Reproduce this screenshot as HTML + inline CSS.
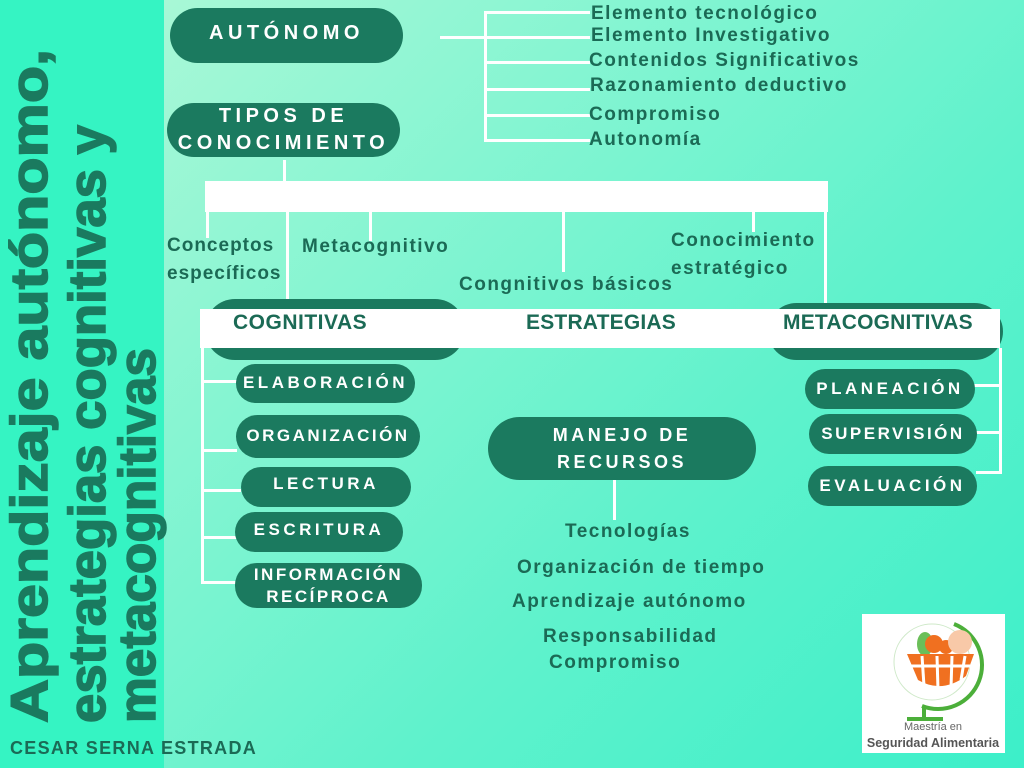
<!DOCTYPE html>
<html><head><meta charset="utf-8"><style>
*{margin:0;padding:0;box-sizing:border-box}
body{width:1024px;height:768px;position:relative;overflow:hidden;font-family:"Liberation Sans",sans-serif;
background:linear-gradient(135deg,#b4f9d8 0%,#86f5d2 35%,#5ff2cc 65%,#3cefc9 100%)}
.a{position:absolute}
.pill{position:absolute;background:#1b7a5f;border-radius:28px;color:#fff;font-weight:bold;text-align:center;display:flex;align-items:center;justify-content:center;letter-spacing:3.5px;line-height:1.35;white-space:nowrap}
.w{position:absolute;background:#fff}
.t{position:absolute;color:#1b6a55;font-weight:bold;font-size:18px;letter-spacing:1px;white-space:nowrap}
.s{position:absolute;color:#1b6a55;font-weight:bold;font-size:19px;letter-spacing:1.5px;white-space:nowrap}
</style></head><body>
<div class="a" style="left:0;top:0;width:164px;height:768px;background:#35f4c3"></div>
<svg class="a" style="left:0;top:0" width="170" height="768">
<g font-family="Liberation Sans" font-weight="bold" font-size="52" fill="#1a7a5f" stroke="#1a7a5f" stroke-width="1.5">
<text transform="translate(47,723) rotate(-90)" textLength="674" lengthAdjust="spacingAndGlyphs">Aprendizaje autónomo,</text>
<text transform="translate(105,723) rotate(-90)" textLength="598" lengthAdjust="spacingAndGlyphs">estrategias cognitivas y</text>
<text transform="translate(155,723) rotate(-90)" textLength="375" lengthAdjust="spacingAndGlyphs">metacognitivas</text>
</g></svg>
<div class="t" style="left:10px;top:738px;font-size:18px;letter-spacing:1.3px">CESAR SERNA ESTRADA</div>

<div class="pill" style="left:170px;top:8px;width:233px;height:55px;font-size:20px;letter-spacing:4.5px;align-items:flex-start;padding-top:12px">AUTÓNOMO</div>
<div class="pill" style="left:167px;top:103px;width:233px;height:54px;font-size:20px;letter-spacing:4.5px">TIPOS DE<br>CONOCIMIENTO</div>

<div class="w" style="left:440px;top:36px;width:46px;height:3px"></div>
<div class="w" style="left:484px;top:11px;width:3px;height:131px"></div>
<div class="w" style="left:484px;top:11px;width:106px;height:3px"></div>
<div class="w" style="left:484px;top:36px;width:106px;height:3px"></div>
<div class="w" style="left:484px;top:61px;width:106px;height:3px"></div>
<div class="w" style="left:484px;top:88px;width:106px;height:3px"></div>
<div class="w" style="left:484px;top:114px;width:106px;height:3px"></div>
<div class="w" style="left:484px;top:139px;width:106px;height:3px"></div>
<div class="s" style="left:591px;top:3px">Elemento tecnológico</div>
<div class="s" style="left:591px;top:25px">Elemento Investigativo</div>
<div class="s" style="left:589px;top:50px">Contenidos Significativos</div>
<div class="s" style="left:590px;top:75px">Razonamiento deductivo</div>
<div class="s" style="left:589px;top:104px">Compromiso</div>
<div class="s" style="left:589px;top:129px">Autonomía</div>

<div class="w" style="left:283px;top:160px;width:3px;height:22px"></div>
<div class="w" style="left:205px;top:181px;width:623px;height:31px"></div>
<div class="w" style="left:206px;top:211px;width:3px;height:27px"></div>
<div class="w" style="left:286px;top:211px;width:3px;height:94px"></div>
<div class="w" style="left:369px;top:211px;width:3px;height:30px"></div>
<div class="w" style="left:562px;top:211px;width:3px;height:61px"></div>
<div class="w" style="left:752px;top:211px;width:3px;height:21px"></div>
<div class="w" style="left:824px;top:211px;width:3px;height:97px"></div>
<div class="s" style="left:167px;top:235px;letter-spacing:1px">Conceptos</div>
<div class="s" style="left:167px;top:263px;letter-spacing:1px">específicos</div>
<div class="s" style="left:302px;top:236px">Metacognitivo</div>
<div class="s" style="left:459px;top:274px">Congnitivos básicos</div>
<div class="s" style="left:671px;top:230px">Conocimiento</div>
<div class="s" style="left:671px;top:258px">estratégico</div>

<div class="pill" style="left:205px;top:299px;width:260px;height:61px;border-radius:30px"></div>
<div class="pill" style="left:768px;top:303px;width:235px;height:57px;border-radius:30px"></div>
<div class="w" style="left:200px;top:309px;width:800px;height:39px"></div>
<div class="t" style="left:233px;top:311px;font-size:21px;letter-spacing:0.5px">COGNITIVAS</div>
<div class="t" style="left:526px;top:311px;font-size:21px;letter-spacing:0.2px">ESTRATEGIAS</div>
<div class="t" style="left:783px;top:311px;font-size:21px;letter-spacing:0.2px">METACOGNITIVAS</div>

<div class="w" style="left:201px;top:348px;width:3px;height:236px"></div>
<div class="w" style="left:201px;top:380px;width:36px;height:3px"></div>
<div class="w" style="left:201px;top:449px;width:36px;height:3px"></div>
<div class="w" style="left:201px;top:489px;width:40px;height:3px"></div>
<div class="w" style="left:201px;top:536px;width:36px;height:3px"></div>
<div class="w" style="left:201px;top:581px;width:36px;height:3px"></div>
<div class="pill" style="left:236px;top:364px;width:179px;height:39px;font-size:17px;border-radius:20px;letter-spacing:3.5px">ELABORACIÓN</div>
<div class="pill" style="left:236px;top:415px;width:184px;height:43px;font-size:17px;border-radius:22px;letter-spacing:2.5px">ORGANIZACIÓN</div>
<div class="pill" style="left:241px;top:467px;width:170px;height:40px;font-size:17px;border-radius:20px;align-items:flex-start;padding-top:6px">LECTURA</div>
<div class="pill" style="left:235px;top:512px;width:168px;height:40px;font-size:17px;border-radius:20px;align-items:flex-start;padding-top:7px">ESCRITURA</div>
<div class="pill" style="left:235px;top:563px;width:187px;height:45px;font-size:17px;border-radius:22px;line-height:1.25;letter-spacing:2.5px">INFORMACIÓN<br>RECÍPROCA</div>

<div class="pill" style="left:488px;top:417px;width:268px;height:63px;font-size:18px;border-radius:32px;align-items:flex-start;padding-top:5px;line-height:1.5;letter-spacing:3.5px">MANEJO DE<br>RECURSOS</div>
<div class="w" style="left:613px;top:480px;width:3px;height:40px"></div>
<div class="s" style="left:565px;top:521px">Tecnologías</div>
<div class="s" style="left:517px;top:557px">Organización de tiempo</div>
<div class="s" style="left:512px;top:591px">Aprendizaje autónomo</div>
<div class="s" style="left:543px;top:626px">Responsabilidad</div>
<div class="s" style="left:549px;top:652px">Compromiso</div>

<div class="w" style="left:999px;top:348px;width:3px;height:126px"></div>
<div class="w" style="left:974px;top:384px;width:28px;height:3px"></div>
<div class="w" style="left:976px;top:431px;width:26px;height:3px"></div>
<div class="w" style="left:976px;top:471px;width:26px;height:3px"></div>
<div class="pill" style="left:805px;top:369px;width:170px;height:40px;font-size:17px;border-radius:20px">PLANEACIÓN</div>
<div class="pill" style="left:809px;top:414px;width:168px;height:40px;font-size:17px;border-radius:20px;letter-spacing:2.5px">SUPERVISIÓN</div>
<div class="pill" style="left:808px;top:466px;width:169px;height:40px;font-size:17px;border-radius:20px">EVALUACIÓN</div>

<div class="a" style="left:862px;top:614px;width:143px;height:139px;background:#fff">
<svg width="143" height="139" viewBox="0 0 143 139">
<circle cx="70" cy="48" r="38" fill="none" stroke="#cfe9c9" stroke-width="1"/>
<path d="M92 10 A44 44 0 0 1 60 92" fill="none" stroke="#4caf3a" stroke-width="4"/>
<line x1="62" y1="92" x2="62" y2="104" stroke="#4caf3a" stroke-width="4"/>
<rect x="45" y="103" width="36" height="4" fill="#4caf3a"/>
<ellipse cx="63" cy="30" rx="8" ry="12" fill="#6bbf59"/>
<circle cx="72" cy="30" r="9" fill="#f07020"/><circle cx="84" cy="33" r="7" fill="#f07020"/>
<circle cx="98" cy="28" r="12" fill="#f8c9a8"/>
<path d="M45 40 H112 L104 62 Q80 80 56 66 Z" fill="#f07020"/>
<g stroke="#fff" stroke-width="3"><line x1="48" y1="52" x2="110" y2="52"/><line x1="60" y1="42" x2="62" y2="72"/><line x1="75" y1="42" x2="76" y2="76"/><line x1="90" y1="42" x2="89" y2="74"/><line x1="103" y1="42" x2="99" y2="66"/></g>
<text x="71" y="116" text-anchor="middle" font-family="Liberation Sans" font-size="11" fill="#666">Maestría en</text>
<text x="71" y="133" text-anchor="middle" font-family="Liberation Sans" font-size="12.5" font-weight="bold" fill="#555">Seguridad Alimentaria</text>
</svg></div>
</body></html>
